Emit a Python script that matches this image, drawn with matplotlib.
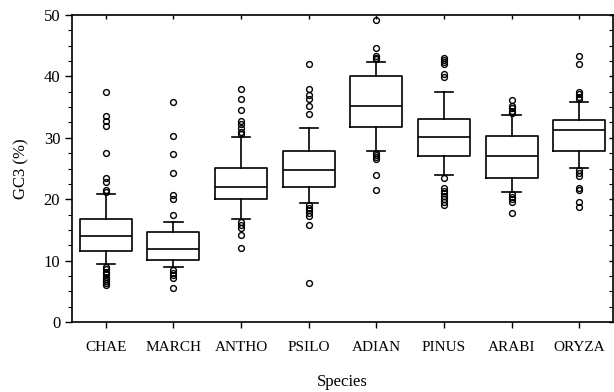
import matplotlib
matplotlib.use("Agg")
import matplotlib.pyplot as plt
from matplotlib.ticker import MultipleLocator

# data
species = ["CHAE", "MARCH", "ANTHO", "PSILO", "ADIAN", "PINUS", "ARABI", "ORYZA"]
whis_lo = [9.5, 8.9, 16.8, 19.4, 27.9, 23.9, 21.1, 25.1]
q1 = [11.6, 10.1, 20.0, 22.0, 31.8, 27.1, 23.5, 27.9]
medians = [14.0, 11.9, 22.0, 24.8, 35.2, 30.2, 27.1, 31.3]
q3 = [16.7, 14.7, 25.1, 27.9, 40.1, 33.1, 30.3, 32.9]
whis_hi = [20.9, 16.3, 30.2, 31.6, 42.3, 37.5, 33.7, 35.9]
outliers = [
    [37.4, 33.5, 32.8, 31.9, 27.6, 23.4, 22.8, 21.5, 21.2,
     9.0, 8.6, 8.2, 7.8, 7.4, 7.0, 6.6, 6.3, 6.0],
    [35.8, 30.3, 27.4, 24.3, 20.7, 20.1, 17.4,
     8.5, 8.0, 7.6, 7.2, 5.6],
    [38.0, 36.3, 34.6, 32.7, 32.2, 31.6, 31.0, 30.6,
     16.3, 15.8, 15.3, 14.1, 12.1],
    [42.1, 37.9, 37.0, 36.4, 35.2, 33.8,
     19.0, 18.6, 18.2, 17.8, 17.3, 15.8, 6.3],
    [49.2, 44.6, 43.3, 43.0, 42.8,
     27.5, 27.2, 26.9, 26.6, 23.9, 21.5],
    [43.0, 42.7, 42.3, 42.0, 40.4, 39.9,
     23.5, 21.8, 21.4, 21.0, 20.5, 20.0, 19.6, 19.1],
    [36.2, 35.2, 34.8, 34.4, 34.0,
     20.8, 20.4, 20.0, 19.6, 17.8],
    [43.3, 42.1, 37.5, 37.2, 36.7, 36.3,
     24.8, 24.3, 23.7, 21.9, 21.5, 19.6, 18.7],
]

plt.rcParams['font.family'] = ['Liberation Serif', 'DejaVu Serif']

stats = []
for i in range(len(species)):
    stats.append({
        "label": species[i],
        "whislo": whis_lo[i],
        "q1": q1[i],
        "med": medians[i],
        "q3": q3[i],
        "whishi": whis_hi[i],
        "fliers": outliers[i],
    })

fig = plt.figure(figsize=(6.14, 3.92), dpi=100)
ax = fig.add_axes([72 / 614, 1 - 322 / 392, 541 / 614, 307 / 392])

lw = 1.2
ax.bxp(stats, widths=0.77, capwidths=0.27,
       boxprops=dict(color="black", linewidth=lw),
       medianprops=dict(color="black", linewidth=lw),
       whiskerprops=dict(color="black", linewidth=lw),
       capprops=dict(color="black", linewidth=lw),
       flierprops=dict(marker="o", markerfacecolor="none",
                       markeredgecolor="black", markersize=4.2,
                       markeredgewidth=1.0))

ax.set_xlim(0.5, 8.5)
ax.set_ylim(0, 50)
ax.yaxis.set_major_locator(MultipleLocator(10))
ax.yaxis.set_minor_locator(MultipleLocator(2.5))

for s in ax.spines.values():
    s.set_linewidth(1.2)

ax.tick_params(axis="y", which="major", direction="out", length=5, width=1.0,
               labelsize=12, right=True)
ax.tick_params(axis="y", which="minor", direction="out", length=3, width=0.8,
               right=True)
ax.tick_params(axis="y", which="both", right=True)
ax.tick_params(axis="x", direction="out", length=4, width=1.0, labelsize=11,
               top=True, pad=10)

# right and top ticks point inward
for t in ax.yaxis.get_major_ticks() + ax.yaxis.get_minor_ticks():
    t.tick2line.set_marker(0)
    t.tick2line.set_markersize(3)
for t in ax.xaxis.get_major_ticks():
    t.tick2line.set_marker(3)
    t.tick2line.set_markersize(3)

ax.set_ylabel("GC3 (%)", fontsize=12, labelpad=10)
ax.set_xlabel("Species", fontsize=12, labelpad=14)

fig.savefig("out.png", dpi=100)
